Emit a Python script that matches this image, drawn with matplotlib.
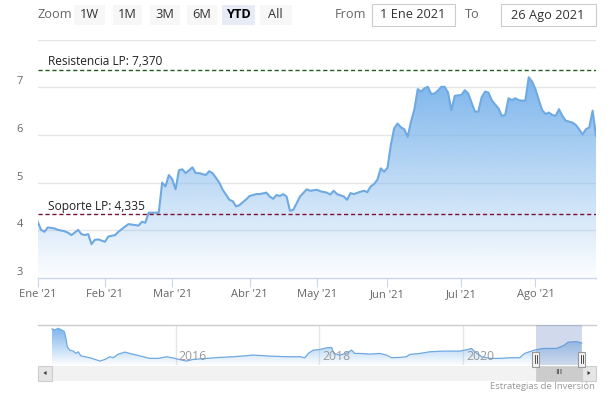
import matplotlib
matplotlib.use('Agg')
import matplotlib.pyplot as plt
import matplotlib.dates as mdates
import matplotlib.transforms as mtransforms
from matplotlib.patches import Rectangle, Polygon
from matplotlib.colors import to_rgb
import numpy as np
import pandas as pd

plt.rcParams['font.family'] = ['Open Sans', 'DejaVu Sans']

# ---------------- data ----------------
year = 2021
holidays = ['2021-01-01', '2021-04-02', '2021-04-05']
dates = ['01-04', '01-05', '01-06', '01-07', '01-11', '01-12', '01-14', '01-15', '01-18', '01-19',
         '01-20', '01-21', '01-22', '01-25', '01-26', '01-27', '01-28', '02-01', '02-02', '02-04',
         '02-05', '02-09', '02-10', '02-12', '02-15', '02-16', '02-17', '02-18', '02-19', '02-22',
         '02-23', '02-24', '02-25', '02-26', '03-01', '03-02', '03-03', '03-04', '03-05', '03-09',
         '03-10', '03-11', '03-15', '03-16', '03-17', '03-19', '03-22', '03-24', '03-25', '03-26',
         '03-29', '03-31', '04-01', '04-07', '04-08', '04-12', '04-13', '04-14', '04-15', '04-16',
         '04-19', '04-20', '04-21', '04-22', '04-23', '04-26', '04-28', '04-29', '05-03', '05-04',
         '05-06', '05-07', '05-10', '05-11', '05-13', '05-14', '05-17', '05-18', '05-20', '05-21',
         '05-24', '05-25', '05-26', '05-27', '05-28', '05-31', '06-01', '06-02', '06-03', '06-04',
         '06-07', '06-08', '06-09', '06-10', '06-11', '06-14', '06-15', '06-16', '06-17', '06-18',
         '06-21', '06-22', '06-23', '06-24', '06-25', '06-28', '06-29', '06-30', '07-01', '07-02',
         '07-05', '07-06', '07-07', '07-08', '07-09', '07-12', '07-13', '07-14', '07-15', '07-16',
         '07-19', '07-20', '07-21', '07-22', '07-23', '07-26', '07-27', '07-28', '07-29', '07-30',
         '08-02', '08-03', '08-04', '08-05', '08-06', '08-09', '08-10', '08-11', '08-12', '08-13',
         '08-16', '08-17', '08-18', '08-19', '08-20', '08-23', '08-24', '08-25', '08-26']
values = [4.18, 4.01, 3.97, 4.06, 4.04, 4.01, 3.98, 3.95, 3.90, 3.95,
          4.01, 3.92, 3.90, 3.92, 3.71, 3.80, 3.81, 3.76, 3.87, 3.90,
          3.97, 4.08, 4.13, 4.11, 4.10, 4.18, 4.16, 4.37, 4.37, 4.37,
          4.37, 5.00, 4.92, 5.16, 5.07, 4.86, 5.26, 5.28, 5.20, 5.32,
          5.20, 5.20, 5.16, 5.24, 5.20, 5.00, 4.85, 4.64, 4.61, 4.50,
          4.53, 4.65, 4.72, 4.76, 4.76, 4.79, 4.71, 4.66, 4.74, 4.72,
          4.76, 4.71, 4.41, 4.43, 4.57, 4.71, 4.86, 4.83, 4.85, 4.82,
          4.79, 4.75, 4.83, 4.76, 4.71, 4.64, 4.78, 4.76, 4.81, 4.83,
          4.80, 4.92, 4.97, 5.06, 5.30, 5.23, 5.31, 5.79, 6.14, 6.24,
          6.16, 6.12, 5.96, 6.28, 6.54, 6.96, 6.91, 6.98, 7.01, 6.86,
          6.87, 6.93, 7.01, 7.01, 6.89, 6.52, 6.82, 6.83, 6.84, 6.94,
          6.87, 6.68, 6.49, 6.49, 6.79, 6.91, 6.89, 6.73, 6.64, 6.56,
          6.40, 6.42, 6.77, 6.73, 6.77, 6.73, 6.72, 6.72, 7.21, 7.12,
          6.96, 6.73, 6.52, 6.44, 6.47, 6.42, 6.40, 6.54, 6.40, 6.30,
          6.28, 6.26, 6.21, 6.12, 6.01, 6.12, 6.16, 6.51, 5.98]
month_labels = ["Ene '21", "Feb '21", "Mar '21", "Abr '21", "May '21", "Jun '21", "Jul '21", "Ago '21"]
y_ticks = [3, 4, 5, 6, 7]
y_grid = [4, 5, 6, 7, 8]
resistencia = 7.370
soporte = 4.335
resistencia_label = 'Resistencia LP: 7,370'
soporte_label = 'Soporte LP: 4,335'

nav_dates = ['2014-04-12', '2014-04-27', '2014-05-14', '2014-05-31', '2014-06-14', '2014-06-22',
             '2014-06-29', '2014-07-12', '2014-07-29', '2014-08-12', '2014-08-24', '2014-09-05',
             '2014-09-27', '2014-10-22', '2014-11-16', '2014-12-12', '2015-01-07', '2015-02-01',
             '2015-02-18', '2015-03-15', '2015-04-18', '2015-05-13', '2015-06-17', '2015-07-20',
             '2015-08-23', '2015-10-04', '2015-11-16', '2015-12-28', '2016-01-31', '2016-02-25',
             '2016-03-30', '2016-06-06', '2016-08-13', '2016-10-19', '2017-01-30', '2017-04-24',
             '2017-07-18', '2017-09-24', '2017-10-19', '2017-11-05', '2017-11-30', '2018-01-03',
             '2018-02-06', '2018-03-04', '2018-03-15', '2018-04-15', '2018-05-27', '2018-06-13',
             '2018-06-30', '2018-07-25', '2018-09-14', '2018-11-04', '2018-12-08', '2019-01-03',
             '2019-02-14', '2019-03-19', '2019-04-05', '2019-05-26', '2019-07-16', '2019-09-22',
             '2019-12-15', '2020-01-26', '2020-02-13', '2020-03-01', '2020-04-04', '2020-05-16',
             '2020-07-06', '2020-08-26', '2020-10-15', '2020-11-09', '2020-12-28', '2021-02-11',
             '2021-04-20', '2021-05-27', '2021-06-18', '2021-07-31', '2021-08-26']
nav_values = [10.9, 10.6, 11.1, 10.6, 10.1, 8.1,
              5.5, 4.5, 4.2, 3.5, 4.0, 2.8,
              2.5, 2.2, 1.7, 1.2, 1.7, 2.5,
              2.2, 3.3, 3.9, 3.5, 3.0, 2.5,
              2.0, 2.0, 2.5, 2.0, 1.5, 1.2,
              1.7, 2.0, 2.3, 2.5, 3.0, 2.7,
              2.5, 2.5, 2.2, 3.5, 4.5, 4.7,
              5.2, 5.3, 3.5, 3.0, 3.8, 4.5,
              3.5, 3.5, 3.3, 3.5, 3.0, 2.2,
              2.3, 2.5, 3.2, 3.5, 4.0, 4.2,
              4.2, 4.7, 5.0, 4.0, 2.5, 2.0,
              2.0, 2.2, 2.2, 3.5, 4.5, 5.0,
              5.0, 5.9, 6.9, 7.1, 6.6]
nav_years = ['2016', '2018', '2020']
nav_window = ['2021-01-04', '2021-08-26']

range_buttons = ['1W', '1M', '3M', '6M', 'YTD', 'All']
selected_button = 'YTD'
from_text = '1 Ene 2021'
to_text = '26 Ago 2021'
credit = 'Estrategias de Inversión'

# ---------------- helpers ----------------
W, H = 616, 395
fig = plt.figure(figsize=(W / 100, H / 100), dpi=100)
fig.patch.set_facecolor('white')


def box(x0, y0, x1, y1):
    """figure-fraction rect from pixel box (y measured from top)"""
    return [x0 / W, 1 - y1 / H, (x1 - x0) / W, (y1 - y0) / H]


SERIES = '#7cb5ec'
LINE = '#6fa9e2'


def gradient_fill(axis, xs, ys, base, color, zorder):
    poly = axis.fill_between(xs, ys, base, facecolor='none', edgecolor='none')
    r, g, b = to_rgb(color)
    n = 256
    grad = np.zeros((n, 1, 4))
    grad[:, 0, 0] = r
    grad[:, 0, 1] = g
    grad[:, 0, 2] = b
    grad[:, 0, 3] = np.linspace(0.02, 1.0, n)
    im = axis.imshow(grad, extent=[xs.min(), xs.max(), base, ys.max()], origin='lower',
                     aspect='auto', zorder=zorder, interpolation='bilinear')
    im.set_clip_path(poly.get_paths()[0], transform=axis.transData)


# ---------------- main chart ----------------
days = pd.bdate_range(f'{year}-01-01', f'{year}-08-26')
days = days[~days.isin(pd.to_datetime(holidays))]
x = np.array(days.get_indexer(pd.to_datetime([f'{year}-{d}' for d in dates])), dtype=float)
vals = np.array(values)

ax = fig.add_axes(box(37.7, 39.6, 596, 278))
ax.set_facecolor('white')
for g in y_grid:
    ax.axhline(g, color='#e6e6e6', lw=1, zorder=1)
gradient_fill(ax, x, vals, 3, SERIES, 2)
ax.plot(x, vals, color=LINE, lw=1.5, zorder=3, solid_joinstyle='round')
ax.axhline(resistencia, color='#1d5e1d', lw=1, ls=(0, (3, 2)), zorder=4)
ax.axhline(soporte, color='#7a1037', lw=1, ls=(0, (3, 2)), zorder=4)
ax.set_xlim(0, len(days) - 1)
ax.set_ylim(3, 8)

for s in ['top', 'left', 'right']:
    ax.spines[s].set_visible(False)
ax.spines['bottom'].set_color('#ccd6eb')
ax.spines['bottom'].set_linewidth(1)

month_idx = [int(np.where(days.month == m)[0][0]) for m in range(1, 9)]
ax.set_xticks(month_idx)
ax.set_xticklabels(month_labels)
ax.tick_params(axis='x', direction='out', length=6.5, width=0.8, color='#ccd6eb',
               labelcolor='#666666', labelsize=8, pad=1.5)
ax.set_yticks([])

ytrans = mtransforms.blended_transform_factory(ax.transAxes, ax.transData)
for v in y_ticks:
    ax.text(0, v, str(v), transform=ytrans + mtransforms.ScaledTranslation(-0.177, 0.055, fig.dpi_scale_trans),
            ha='center', va='center', fontsize=8, color='#666666', clip_on=False)

ax.text(0, resistencia, resistencia_label,
        transform=ytrans + mtransforms.ScaledTranslation(0.106, 0.078, fig.dpi_scale_trans),
        ha='left', va='center', fontsize=8.6, color='#222222', zorder=5)
ax.text(0, soporte, soporte_label,
        transform=ytrans + mtransforms.ScaledTranslation(0.106, 0.083, fig.dpi_scale_trans),
        ha='left', va='center', fontsize=8.6, color='#222222', zorder=5)

# ---------------- navigator ----------------
nav = fig.add_axes(box(38, 325, 596, 365))
nav.set_facecolor('none')
nx = mdates.date2num(pd.to_datetime(nav_dates))
nv = np.array(nav_values)
for yl in nav_years:
    nav.axvline(mdates.date2num(pd.Timestamp(f'{yl}-01-01')), color='#e6e6e6', lw=1, zorder=1)
gradient_fill(nav, nx, nv, 0, SERIES, 2)
nav.plot(nx, nv, color=LINE, lw=0.9, zorder=3)
w0, w1 = mdates.date2num(pd.to_datetime(nav_window))
nav.axvspan(w0, w1, color=(102 / 255, 133 / 255, 194 / 255, 0.3), lw=0, zorder=4)
nav.set_xlim(mdates.date2num(pd.Timestamp('2014-01-31')), mdates.date2num(pd.Timestamp('2021-11-07')))
nav.set_ylim(0, 12.1)
nav.set_xticks([])
nav.set_yticks([])
for s in ['left', 'right', 'bottom']:
    nav.spines[s].set_visible(False)
nav.spines['top'].set_color('#cccccc')
nav.spines['top'].set_linewidth(1)
ntrans = mtransforms.blended_transform_factory(nav.transData, nav.transAxes)
for yl in nav_years:
    nav.text(mdates.date2num(pd.Timestamp(f'{yl}-01-01')), 0.21, yl,
             transform=ntrans + mtransforms.ScaledTranslation(0.03, 0, fig.dpi_scale_trans),
             ha='left', va='center', fontsize=8.8, color='#999999', zorder=5)

# pixel positions of window edges (display px; y from bottom)
wx0 = nav.transData.transform((w0, 0))[0]
wx1 = nav.transData.transform((w1, 0))[0]

# ---------------- UI overlay ----------------
ui = fig.add_axes([0, 0, 1, 1])
ui.set_xlim(0, W)
ui.set_ylim(H, 0)
ui.axis('off')

# range selector
ui.text(37, 15, 'Zoom', fontsize=9.2, color='#666666', ha='left', va='center')
btn_x = [73.6, 113, 150, 186.7, 222, 260]
btn_w = [31.4, 29.3, 29.6, 30.3, 33, 31.6]
for lbl, bx, bw in zip(range_buttons, btn_x, btn_w):
    sel = (lbl == selected_button)
    ui.add_patch(Rectangle((bx, 4.5), bw, 20.5, facecolor='#e6ebf5' if sel else '#f7f7f7',
                           edgecolor='none'))
    ui.text(bx + bw / 2, 15, lbl, fontsize=9.2, color='#000000' if sel else '#333333',
            fontweight='bold' if sel else 'normal', ha='center', va='center')

ui.text(335, 15, 'From', fontsize=9.2, color='#666666', ha='left', va='center')
ui.add_patch(Rectangle((371.5, 4), 83, 22, facecolor='white', edgecolor='#cccccc', lw=0.8))
ui.text(413, 15, from_text, fontsize=9.2, color='#333333', ha='center', va='center')
ui.text(464.5, 15, 'To', fontsize=9.2, color='#666666', ha='left', va='center')
ui.add_patch(Rectangle((501, 4), 94.5, 22, facecolor='white', edgecolor='#cccccc', lw=0.8))
ui.text(548, 15, to_text, fontsize=9.2, color='#333333', ha='center', va='center')

# navigator handles
px0, px1 = wx0, wx1
for hx in (px0, px1):
    ui.add_patch(Rectangle((hx - 3.5, 351.5), 7, 15, facecolor='#f2f2f2', edgecolor='#999999', lw=0.8,
                           zorder=6))
    for dx in (-1, 1):
        ui.plot([hx + dx, hx + dx], [355, 363], color='#333333', lw=0.6, zorder=7)

# scrollbar
ui.add_patch(Rectangle((38, 365.5), 558, 15, facecolor='#f2f2f2', edgecolor='none', zorder=2))
ui.add_patch(Rectangle((px0, 365.5), px1 - px0, 15, facecolor='#cccccc', edgecolor='#cccccc', lw=0.5,
                       zorder=3))
ui.text((px0 + px1) / 2, 373, 'III', fontsize=6, color='#333333', ha='center', va='center', zorder=4)
ui.add_patch(Rectangle((38, 365.5), 14, 15, facecolor='#e6e6e6', edgecolor='#cccccc', lw=0.8, zorder=3))
ui.add_patch(Rectangle((582, 365.5), 14, 15, facecolor='#e6e6e6', edgecolor='#cccccc', lw=0.8, zorder=3))
ui.add_patch(Polygon([[43.5, 373], [46.5, 371], [46.5, 375]], closed=True, facecolor='#333333',
                     edgecolor='none', zorder=4))
ui.add_patch(Polygon([[590.5, 373], [587.5, 371], [587.5, 375]], closed=True, facecolor='#333333',
                     edgecolor='none', zorder=4))

# credit
ui.text(595, 386.5, credit, fontsize=6.8, color='#999999', ha='right', va='center')

fig.savefig('out.png', dpi=100, facecolor='white')
